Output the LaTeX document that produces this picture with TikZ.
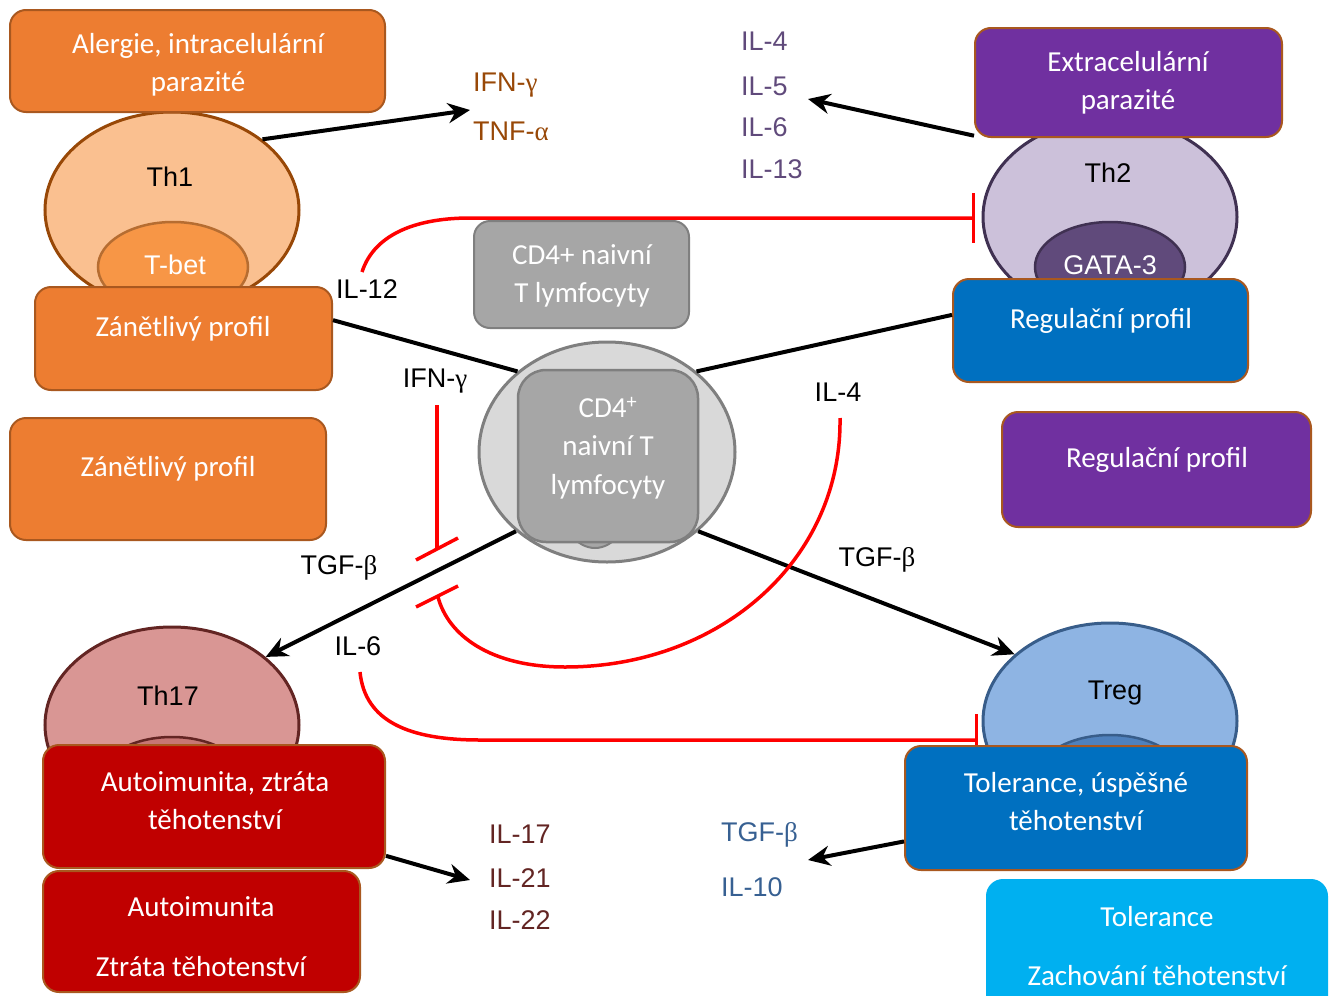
\documentclass[tikz,border=0pt]{standalone}
\usepackage{fontspec}
\setmainfont{Liberation Sans}
\newfontfamily\boxfont{Carlito}
\newfontfamily\grfont{Liberation Serif}
\usetikzlibrary{shapes.geometric,arrows.meta}
\newcommand\recek[1]{{\grfont #1}}

\definecolor{boxrim}{HTML}{A9581F}
\definecolor{oranzova}{HTML}{ED7D31}
\definecolor{fialova}{HTML}{7030A0}
\definecolor{modra}{HTML}{0070C0}
\definecolor{svetlemodra}{HTML}{00B0F0}
\definecolor{cervena}{HTML}{C00000}
\definecolor{seda}{HTML}{A6A6A6}
\definecolor{sedarim}{HTML}{7F7F7F}
\definecolor{thjedna}{HTML}{984807}
\definecolor{thdva}{HTML}{604A7B}
\definecolor{thdvarim}{HTML}{403152}
\definecolor{thsedm}{HTML}{632523}
\definecolor{tregrim}{HTML}{385D8A}
\definecolor{tregtext}{HTML}{376092}

\tikzset{
  profil/.style={rounded corners=16pt, draw=boxrim, line width=2pt, inner sep=0pt},
  profiltext/.style={text=white, font=\boxfont\fontsize{29}{38}\selectfont, align=center},
  cell/.style={ellipse, line width=3pt, inner sep=0pt, minimum width=254pt, minimum height=196pt},
  jadro/.style={ellipse, line width=2.5pt, inner sep=0pt, minimum width=150pt, minimum height=90pt},
  popis/.style={font=\fontsize{27}{32}\selectfont, inner sep=1pt},
  sipka/.style={line width=4pt, -{Stealth[length=22pt,width=20pt]}},
  spoj/.style={line width=4pt},
  blok/.style={red, line width=3.5pt},
}

\begin{document}
\begin{tikzpicture}[x=1pt,y=-1pt]
	\useasboundingbox (0,0) rectangle (1334,996);

	% bunky
	\node[cell, fill={rgb,255:red,250;green,192;blue,144}, draw=thjedna] (th1) at (172,210) {};
	\node[jadro, fill={rgb,255:red,247;green,150;blue,70}, draw={rgb,255:red,182;green,109;blue,49}] (tbet) at (173,267) {};
	\node[cell, fill={rgb,255:red,204;green,193;blue,218}, draw=thdvarim] (th2) at (1110,217) {};
	\node[jadro, fill=thdva, draw=thdvarim] (gata) at (1110,267) {};
	\node[cell, fill={rgb,255:red,217;green,150;blue,148}, draw=thsedm] (th17) at (172,725) {};
	\node[jadro, fill={rgb,255:red,199;green,118;blue,116}, draw=thsedm] (th17jadro) at (172,782) {};
	\node[cell, fill={rgb,255:red,142;green,180;blue,227}, draw=tregrim] (treg) at (1110,721) {};
	\node[jadro, fill={rgb,255:red,79;green,129;blue,189}, draw=tregrim] (tregjadro) at (1110,780) {};
	\node[cell, fill={rgb,255:red,217;green,217;blue,217}, draw=sedarim, minimum width=256pt, minimum height=220pt] (naive) at (607,452) {};
	\node[ellipse, fill=seda, draw=sedarim, line width=2pt, minimum width=66pt, minimum height=86pt] (naivejadro) at (595,505) {};
	\node[rounded corners=28pt, fill=seda, draw=sedarim, line width=2.5pt, minimum width=180pt, minimum height=172pt] (naivebox) at (608,456) {};

	\node[popis] (th1t) at (170,177) {Th1};
	\node[popis, text=white] (tbett) at (175,265) {T-bet};
	\node[popis] (th2t) at (1108,173) {Th2};
	\node[popis, text=white] (gatat) at (1110,265) {GATA-3};
	\node[popis] (th17t) at (168,696) {Th17};
	\node[popis] (tregt) at (1115,693) {Treg};

	\coordinate (th1out) at (470,110);
	\coordinate (th2out) at (808,99);
	\coordinate (th17out) at (470,880);
	\coordinate (tregout) at (808,860);

	% aktivace
	\draw[sipka] (th1.38) -- (th1out);
	\draw[sipka] (naive.221) -- (th17.36);
	\draw[sipka] (naive.319) -- (treg.145);

	% inhibice
	\coordinate (il12a) at (362,272);
	\coordinate (il12b) at (975,218);
	\coordinate (ifna) at (437,405);
	\coordinate (ifnb) at (437,549);
	\coordinate (il4a) at (840,418);
	\coordinate (il4c) at (438,597);
	\coordinate (il6a) at (360,672);
	\coordinate (il6c) at (978,740);
	\coordinate (ifnbar1) at (416,560);
	\coordinate (ifnbar2) at (458,538);
	\coordinate (il4bar1) at (416,607);
	\coordinate (il4bar2) at (458,586);
	\draw[blok, -{Bar[width=50pt]}] (il12a) .. controls (375,232) and (420,218) .. (470,218) -- (il12b);
	\draw[blok] (ifna) -- (ifnb);
	\draw[blok] (ifnbar1) -- (ifnbar2);
	\draw[blok] (il4a) .. controls (842,560) and (720,667) .. (565,667) .. controls (490,667) and (448,635) .. (il4c);
	\draw[blok] (il4bar1) -- (il4bar2);
	\draw[blok, -{Bar[width=52pt]}] (il6a) .. controls (365,722) and (410,740) .. (480,740) -- (il6c);

	% profily
	\node[profil, fill=oranzova, minimum width=375pt, minimum height=102pt] (alergie) at (197.5,61) {};
	\node[profiltext] (alergiet) at (198,65) {Alergie, intracelulární\\parazité};
	\node[profil, fill=oranzova, minimum width=297pt, minimum height=103pt] (zan1) at (183.5,338.5) {};
	\node[profiltext] (zan1t) at (183,329) {Zánětlivý profil};
	\node[profil, fill=oranzova, minimum width=316pt, minimum height=122pt] (zan2) at (168,479) {};
	\node[profiltext] (zan2t) at (168,469) {Zánětlivý profil};
	\node[profil, fill=fialova, minimum width=307pt, minimum height=109pt] (extra) at (1128.5,82.5) {};
	\node[profiltext] (extrat) at (1128,83) {Extracelulární\\parazité};
	\node[profil, fill=modra, minimum width=295pt, minimum height=103pt] (reg1) at (1100.5,330.5) {};
	\node[profiltext] (reg1t) at (1101,321) {Regulační profil};
	\node[profil, fill=fialova, minimum width=309pt, minimum height=115pt] (reg2) at (1156.5,469.5) {};
	\node[profiltext] (reg2t) at (1157,460) {Regulační profil};
	\node[profil, fill=seda, draw=sedarim, minimum width=215pt, minimum height=107pt] (cd4) at (581.5,274.5) {};
	\node[profiltext] (cd4t) at (582,276) {CD4+ naivní\\T lymfocyty};
	\node[profiltext, font=\boxfont\fontsize{29}{38.5}\selectfont] (naivet) at (608,448) {CD4\textsuperscript{+}\\naivní T\\lymfocyty};
	\node[profil, fill=cervena, minimum width=342pt, minimum height=123pt] (auto1) at (214,806.5) {};
	\node[profiltext] (auto1t) at (215,801) {Autoimunita, ztráta\\těhotenství};
	\node[profil, fill=cervena, minimum width=317pt, minimum height=121pt] (auto2) at (201.5,931.5) {};
	\node[profiltext] (auto2t) at (201,937) {Autoimunita\\[22pt]Ztráta těhotenství};
	\node[profil, fill=modra, minimum width=342pt, minimum height=124pt] (tol1) at (1076,808) {};
	\node[profiltext] (tol1t) at (1076,802) {Tolerance, úspěšné\\těhotenství};
	\node[profil, fill=svetlemodra, draw=svetlemodra, minimum width=340pt, minimum height=135pt] (tol2) at (1157,947.5) {};
	\node[profiltext] (tol2t) at (1157,946) {Tolerance\\[21pt]Zachování těhotenství};

	% cytokiny
	\foreach \jm/\txt/\y in {ifn/IFN-\recek{γ}/85, tnf/TNF-\recek{α}/131}
		\node[popis, text=thjedna, anchor=west] (\jm) at (472,\y) {\txt};
	\foreach \jm/\txt/\y in {il4/IL-4/41, il5/IL-5/86, il6/IL-6/127, il13/IL-13/169}
		\node[popis, text=thdva, anchor=west] (\jm) at (740,\y) {\txt};
	\foreach \jm/\txt/\y in {il17/IL-17/834, il21/IL-21/878, il22/IL-22/920}
		\node[popis, text=thsedm, anchor=west] (\jm) at (488,\y) {\txt};
	\foreach \jm/\txt/\y in {tgfout/TGF-\recek{β}/835, il10/IL-10/887}
		\node[popis, text=tregtext, anchor=west] (\jm) at (720,\y) {\txt};
	\node[popis] (il12) at (367,289) {IL-12};
	\node[popis] (ifng) at (435,381) {IFN-\recek{γ}};
	\node[popis] (il4b) at (838,392) {IL-4};
	\node[popis] (tgf1) at (339,568) {TGF-\recek{β}};
	\node[popis] (il6b) at (358,646) {IL-6};
	\node[popis] (tgf2) at (877,560) {TGF-\recek{β}};

	\draw[spoj] (zan1.7) -- (naive.138);
	\draw[spoj] (naive.42) -- (reg1.174);
	\draw[sipka] (extra.199) -- (th2out);
	\draw[sipka] (auto1.-16) -- (th17out);
	\draw[sipka] (tol1.191) -- (tregout);
\end{tikzpicture}
\end{document}
